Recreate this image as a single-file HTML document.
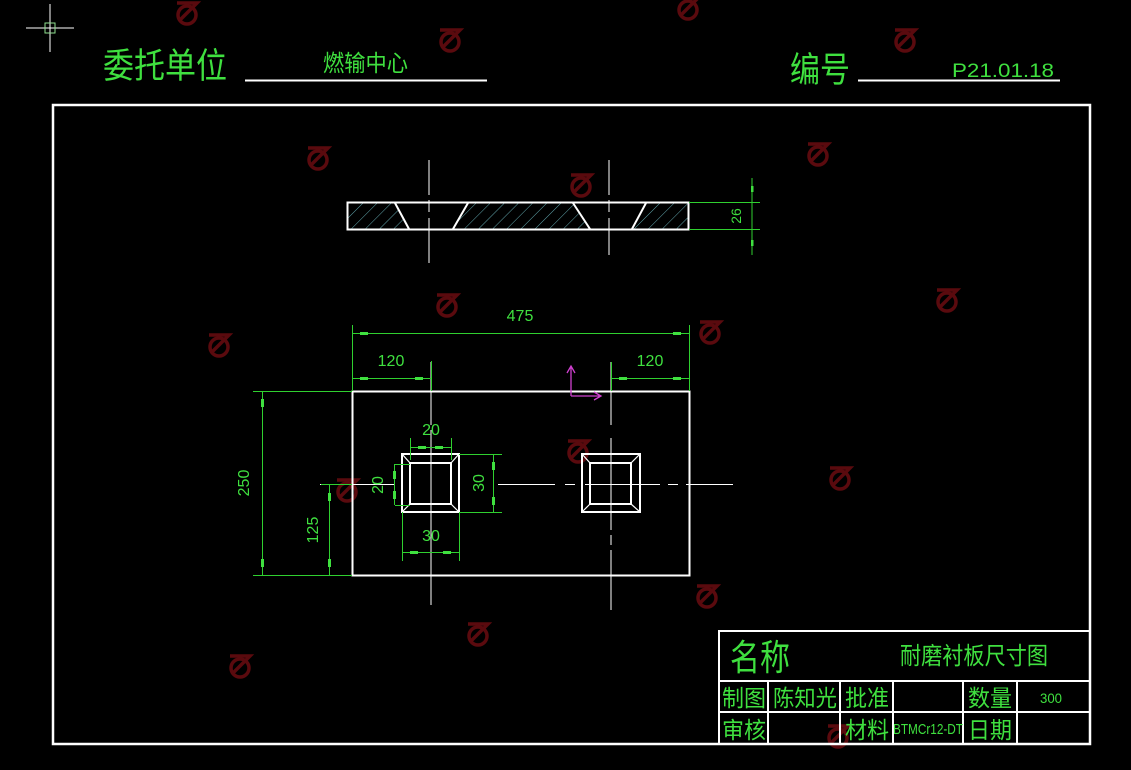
<!DOCTYPE html>
<html><head><meta charset="utf-8"><style>
html,body{margin:0;padding:0;background:#000;}
svg{display:block}
text{font-family:"Liberation Sans","Noto Sans CJK SC",sans-serif;}
.g{fill:#3fe03f}
.dim{stroke:#2fd02f;stroke-width:1;fill:none}
.w{stroke:#fff;fill:none}
</style></head><body>
<svg width="1131" height="770" viewBox="0 0 1131 770" xmlns="http://www.w3.org/2000/svg">
<rect width="1131" height="770" fill="#000"/>
<defs>
<pattern id="h" width="10" height="10" patternUnits="userSpaceOnUse" patternTransform="rotate(45)">
<line x1="0" y1="0" x2="0" y2="10" stroke="#7ad0d8" stroke-width="0.8"/>
</pattern>
<g id="wm"><circle cx="0" cy="0" r="9"/><path d="M-10 -12 H10 L-8 6"/></g>
</defs>
<g fill="none" stroke="#5a0a0e" stroke-width="3.5">
<use href="#wm" x="187" y="15"/><use href="#wm" x="450" y="42"/><use href="#wm" x="688" y="10"/><use href="#wm" x="905" y="42"/>
<use href="#wm" x="318" y="160"/><use href="#wm" x="581" y="187"/><use href="#wm" x="818" y="156"/><use href="#wm" x="447" y="307"/>
<use href="#wm" x="947" y="302"/><use href="#wm" x="710" y="334"/><use href="#wm" x="219" y="347"/><use href="#wm" x="578" y="453"/>
<use href="#wm" x="840" y="480"/><use href="#wm" x="347" y="492"/><use href="#wm" x="707" y="598"/><use href="#wm" x="478" y="636"/>
<use href="#wm" x="240" y="668"/><use href="#wm" x="838" y="738"/>
</g>
<!-- crosshair -->
<line x1="26" y1="28" x2="74" y2="28" stroke="#fff"/><line x1="50" y1="4" x2="50" y2="52" stroke="#fff"/>
<rect x="45" y="23" width="10" height="10" fill="none" stroke="#8fe08f"/>
<!-- header -->
<text x="103" y="78" font-size="35" class="g" textLength="124" lengthAdjust="spacingAndGlyphs">委托单位</text>
<line x1="245" y1="80.5" x2="487" y2="80.5" stroke="#fff" stroke-width="2"/>
<text x="323" y="71" font-size="23" class="g" textLength="85" lengthAdjust="spacingAndGlyphs">燃输中心</text>
<text x="790" y="82" font-size="35" class="g" textLength="60" lengthAdjust="spacingAndGlyphs">编号</text>
<line x1="858" y1="80.5" x2="1060" y2="80.5" stroke="#fff" stroke-width="2"/>
<text x="952" y="77" font-size="19" class="g" textLength="102" lengthAdjust="spacingAndGlyphs" font-family="Liberation Mono">P21.01.18</text>
<!-- border -->
<rect x="53" y="105" width="1037" height="639" class="w" stroke-width="2.5"/>
<!-- top section view -->
<polygon points="348,203 395,203 409,229 348,229" fill="url(#h)"/>
<polygon points="468,203 573,203 590,229 453,229" fill="url(#h)"/>
<polygon points="646,203 689,203 689,229 632,229" fill="url(#h)"/>
<rect x="347.5" y="202.5" width="341" height="27" class="w" stroke-width="2"/>
<g stroke="#fff" stroke-width="2"><line x1="395" y1="203" x2="409" y2="229"/><line x1="468" y1="203" x2="453" y2="229"/><line x1="573" y1="203" x2="590" y2="229"/><line x1="646" y1="203" x2="632" y2="229"/></g>
<g stroke="#fff" stroke-width="1"><line x1="429" y1="160" x2="429" y2="195"/><line x1="429" y1="200" x2="429" y2="212"/><line x1="429" y1="218" x2="429" y2="263"/>
<line x1="609" y1="160" x2="609" y2="195"/><line x1="609" y1="200" x2="609" y2="212"/><line x1="609" y1="218" x2="609" y2="255"/></g>
<g class="dim"><line x1="689" y1="202.5" x2="760" y2="202.5"/><line x1="689" y1="229.5" x2="760" y2="229.5"/><line x1="752" y1="178" x2="752" y2="255"/></g>
<rect x="751" y="186" width="2.5" height="6" fill="#3fe03f"/><rect x="751" y="240" width="2.5" height="6" fill="#3fe03f"/>
<text transform="translate(741,216) rotate(-90)" font-size="14" class="g" text-anchor="middle" font-family="Liberation Sans Narrow,Liberation Sans">26</text>
<!-- main view -->
<rect x="352.5" y="391.5" width="337" height="184" class="w" stroke-width="2"/>
<g stroke="#fff" stroke-width="1">
<line x1="431" y1="362" x2="431" y2="425"/><line x1="431" y1="430" x2="431" y2="605"/>
<line x1="611" y1="362" x2="611" y2="425"/><line x1="611" y1="438" x2="611" y2="530"/><line x1="611" y1="535" x2="611" y2="545"/><line x1="611" y1="550" x2="611" y2="610"/>
<line x1="320" y1="484.5" x2="395" y2="484.5"/><line x1="498" y1="484.5" x2="555" y2="484.5"/><line x1="565" y1="484.5" x2="575" y2="484.5"/><line x1="585" y1="484.5" x2="660" y2="484.5"/><line x1="668" y1="484.5" x2="678" y2="484.5"/><line x1="686" y1="484.5" x2="733" y2="484.5"/>
</g>
<g class="w" stroke-width="2">
<rect x="402" y="454" width="57" height="58"/><rect x="410" y="463" width="41" height="41"/>
<rect x="582" y="454" width="58" height="58"/><rect x="590" y="463" width="41" height="41"/>
</g>
<g stroke="#fff" stroke-width="1.2">
<line x1="402" y1="454" x2="410" y2="463"/><line x1="459" y1="454" x2="451" y2="463"/><line x1="402" y1="512" x2="410" y2="504"/><line x1="459" y1="512" x2="451" y2="504"/>
<line x1="582" y1="454" x2="590" y2="463"/><line x1="640" y1="454" x2="631" y2="463"/><line x1="582" y1="512" x2="590" y2="504"/><line x1="640" y1="512" x2="631" y2="504"/>
</g>
<g class="dim">
<line x1="352.5" y1="325" x2="352.5" y2="391"/><line x1="689.5" y1="325" x2="689.5" y2="391"/>
<line x1="352" y1="333.5" x2="689" y2="333.5"/>
<line x1="431.5" y1="361" x2="431.5" y2="391"/><line x1="611.5" y1="362" x2="611.5" y2="391"/>
<line x1="352" y1="378.5" x2="431" y2="378.5"/><line x1="611" y1="378.5" x2="689" y2="378.5"/>
<line x1="253" y1="391.5" x2="352" y2="391.5"/><line x1="253" y1="575.5" x2="352" y2="575.5"/>
<line x1="262.5" y1="391" x2="262.5" y2="575"/>
<line x1="321" y1="484.5" x2="352" y2="484.5"/><line x1="329.5" y1="484" x2="329.5" y2="575"/>
<line x1="410.5" y1="438" x2="410.5" y2="460"/><line x1="451.5" y1="438" x2="451.5" y2="460"/><line x1="410" y1="447.5" x2="451" y2="447.5"/>
<line x1="395" y1="464.5" x2="410" y2="464.5"/><line x1="395" y1="505.5" x2="410" y2="505.5"/><line x1="394.5" y1="464" x2="394.5" y2="505"/>
<line x1="459" y1="454.5" x2="502" y2="454.5"/><line x1="459" y1="512.5" x2="502" y2="512.5"/><line x1="493.5" y1="454" x2="493.5" y2="512"/>
<line x1="402.5" y1="512" x2="402.5" y2="561"/><line x1="459.5" y1="512" x2="459.5" y2="561"/><line x1="402" y1="552.5" x2="459" y2="552.5"/>
</g>
<g fill="#3fe03f">
<rect x="360" y="332" width="8" height="3"/><rect x="673" y="332" width="8" height="3"/>
<rect x="360" y="377" width="8" height="3"/><rect x="415" y="377" width="8" height="3"/>
<rect x="619" y="377" width="8" height="3"/><rect x="673" y="377" width="8" height="3"/>
<rect x="261" y="399" width="3" height="8" /><rect x="261" y="559" width="3" height="8"/>
<rect x="328" y="493" width="3" height="8"/><rect x="328" y="559" width="3" height="8"/>
<rect x="418" y="446" width="8" height="3"/><rect x="435" y="446" width="8" height="3"/>
<rect x="393" y="471" width="3" height="8"/><rect x="393" y="491" width="3" height="8"/>
<rect x="492" y="462" width="3" height="8"/><rect x="492" y="497" width="3" height="8"/>
<rect x="410" y="551" width="8" height="3"/><rect x="443" y="551" width="8" height="3"/>
</g>
<g class="g" font-size="16" text-anchor="middle" font-family="Liberation Sans Narrow,Liberation Sans">
<text x="520" y="321">475</text>
<text x="391" y="366">120</text><text x="650" y="366">120</text>
<text x="431" y="435">20</text><text x="431" y="541">30</text>
<text transform="translate(249,483) rotate(-90)">250</text>
<text transform="translate(318,530) rotate(-90)">125</text>
<text transform="translate(383,485) rotate(-90)">20</text>
<text transform="translate(484,483) rotate(-90)">30</text>
</g>
<g stroke="#d040d0" stroke-width="1.3" fill="none">
<path d="M571 396 V366 M567 373 L571 366 L575 373"/>
<path d="M571 396 H601 M594 392 L601 396 L594 400"/>
</g>
<!-- title block -->
<g class="w" stroke-width="2">
<rect x="719" y="631" width="371" height="113"/>
<line x1="719" y1="681" x2="1090" y2="681"/><line x1="719" y1="712" x2="1090" y2="712"/>
<line x1="768" y1="681" x2="768" y2="744"/><line x1="840" y1="681" x2="840" y2="744"/><line x1="893" y1="681" x2="893" y2="744"/>
<line x1="963" y1="681" x2="963" y2="744"/><line x1="1017" y1="681" x2="1017" y2="744"/>
</g>
<g class="g">
<text x="730" y="670" font-size="36" textLength="60" lengthAdjust="spacingAndGlyphs">名称</text>
<text x="900" y="664" font-size="24" textLength="148" lengthAdjust="spacingAndGlyphs">耐磨衬板尺寸图</text>
<text x="722" y="706" font-size="23" textLength="44" lengthAdjust="spacingAndGlyphs">制图</text>
<text x="773" y="706" font-size="23" textLength="64" lengthAdjust="spacingAndGlyphs">陈知光</text>
<text x="845" y="706" font-size="23" textLength="44" lengthAdjust="spacingAndGlyphs">批准</text>
<text x="968" y="706" font-size="23" textLength="44" lengthAdjust="spacingAndGlyphs">数量</text>
<text x="1040" y="703" font-size="14" textLength="22" lengthAdjust="spacingAndGlyphs">300</text>
<text x="722" y="738" font-size="23" textLength="44" lengthAdjust="spacingAndGlyphs">审核</text>
<text x="845" y="738" font-size="23" textLength="44" lengthAdjust="spacingAndGlyphs">材料</text>
<text x="893" y="734" font-size="15" textLength="70" lengthAdjust="spacingAndGlyphs" font-family="Liberation Mono">BTMCr12-DT</text>
<text x="968" y="738" font-size="23" textLength="44" lengthAdjust="spacingAndGlyphs">日期</text>
</g>
</svg>
</body></html>
